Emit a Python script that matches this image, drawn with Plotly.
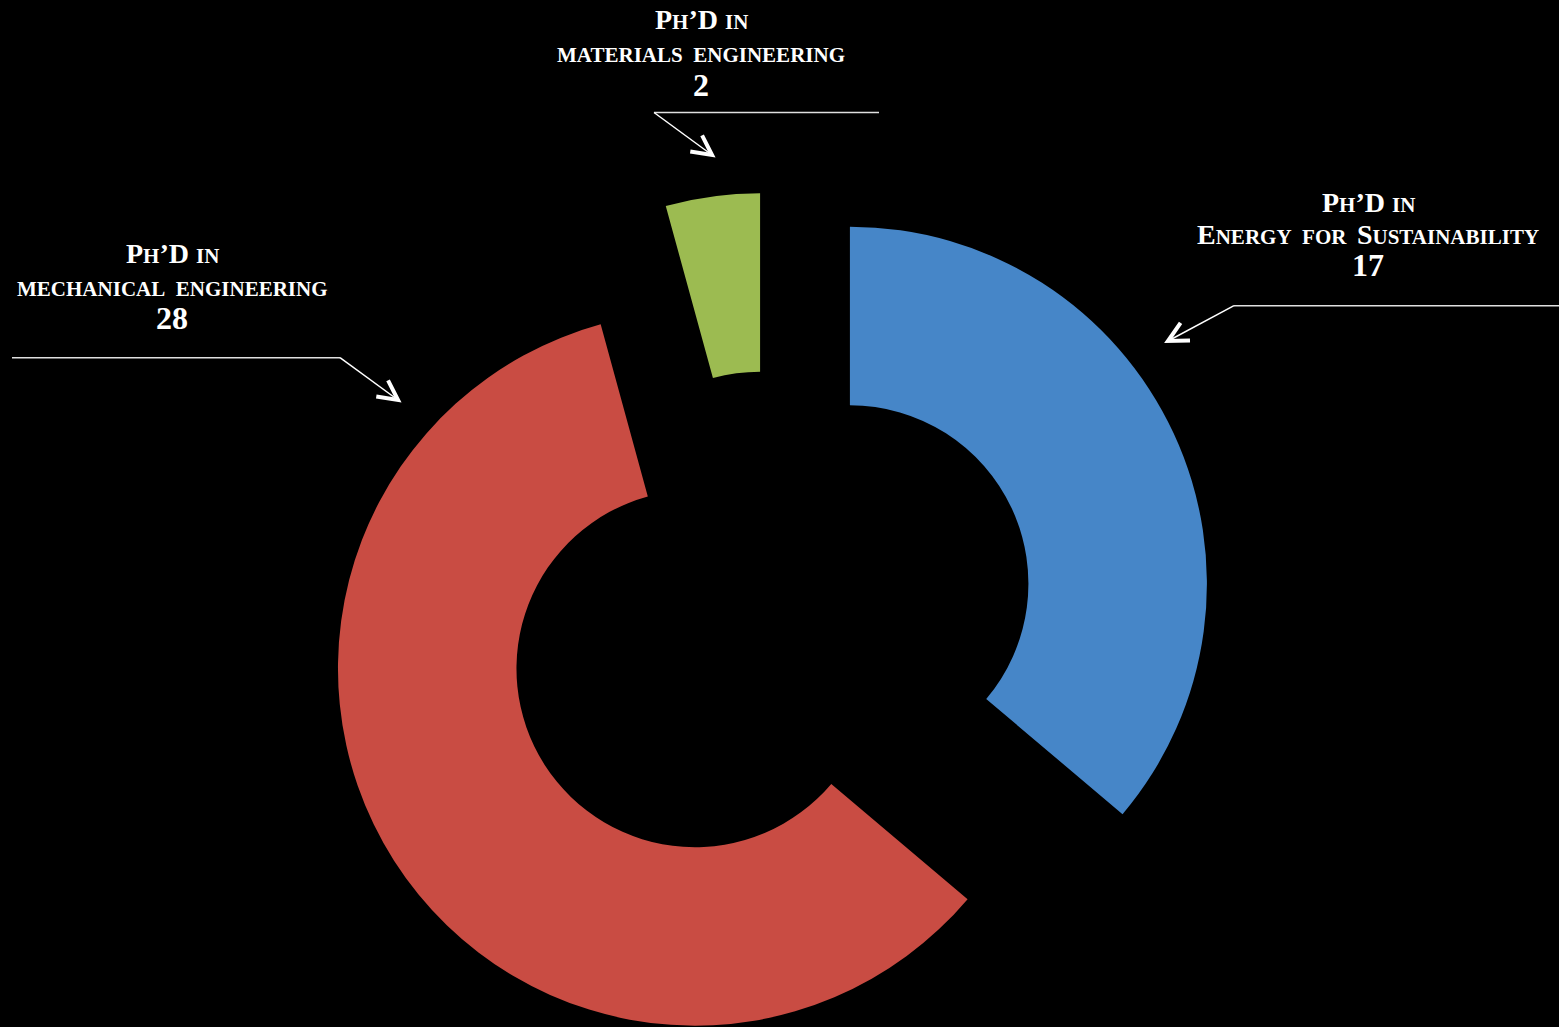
import math
import plotly.graph_objects as go

# ---------------- data ----------------
programs = ["Energy for Sustainability", "Mechanical Engineering", "Materials Engineering"]
students = [17, 28, 2]
label_words = ["Energy for Sustainability", "mechanical engineering", "materials engineering"]

# ---------------- style ----------------
slice_colors = ["#4686C8", "#C94C43", "#9CBB51"]
explode = [0.248, 0.248, 0.20]      # pull, fraction of radius
W, H = 1559, 1027
CX, CY = 769.6, 621.0               # pie centre (px)
R = 357                             # outer radius (px)
HOLE = 0.5
FONT = "Liberation Serif"
BIG, SMALL, NUM = 28, 21, 32


def X(px):
    return px / W


def Y(py):
    return 1 - py / H


fig = go.Figure()
total = sum(students)
cum = 0
for i, v in enumerate(students):
    mid = (cum + v / 2) / total * 2 * math.pi
    cum += v
    d = explode[i] * R
    cx = CX + d * math.sin(mid)
    cy = CY - d * math.cos(mid)
    cols = ["rgba(0,0,0,0)"] * len(students)
    cols[i] = slice_colors[i]
    fig.add_trace(go.Pie(
        labels=programs, values=students, hole=HOLE, sort=False,
        direction="clockwise", rotation=0,
        marker=dict(colors=cols, line=dict(width=0)),
        textinfo="none", hoverinfo="skip", showlegend=False,
        domain=dict(x=[X(cx - R), X(cx + R)], y=[Y(cy + R), Y(cy - R)]),
    ))


def smallcaps(text):
    """Render words with initial capitals large, other letters as small caps."""
    out = []
    for word in text.split(" "):
        parts = ""
        for ch in word:
            if ch.isupper():
                parts += ch
            else:
                parts += f"<span style='font-size:{SMALL}px'>{ch.upper()}</span>"
        out.append(parts)
    return f"<span style='font-size:{SMALL}px'>\u00a0\u00a0</span>".join(out)


head = f"<b>P<span style='font-size:{SMALL}px'>H</span>’D <span style='font-size:{SMALL}px'>IN</span></b>"

# label placement (px): centre x, line centres y
label_pos = [
    (1368, [202, 235, 264.5]),
    (172, [254, 288.5, 317.5]),
    (701, [20, 55, 85]),
]

annotations = []
for i in range(len(students)):
    lx, ys = label_pos[i]
    texts = [head, "<b>" + smallcaps(label_words[i]) + "</b>", f"<b>{students[i]}</b>"]
    sizes = [BIG, BIG, NUM]
    for t, yy, fs in zip(texts, ys, sizes):
        annotations.append(dict(
            x=X(lx), y=Y(yy), xref="paper", yref="paper", text=t, showarrow=False,
            xanchor="center", yanchor="middle",
            font=dict(family=FONT, size=fs, color="white"),
        ))

# leader lines: horizontal start, end, arrow tip (px)
leaders = [
    ((1559, 305.7), (1234, 305.7), (1168, 341)),
    ((12, 357.7), (340, 357.7), (398, 400)),
    ((879, 112.5), (654, 112.5), (712, 155)),
]
shapes = []
for (a, b, tip) in leaders:
    shapes.append(dict(type="line", xref="paper", yref="paper",
                       x0=X(a[0]), y0=Y(a[1]), x1=X(b[0]), y1=Y(b[1]),
                       line=dict(color="#E0E0E0", width=1.5)))
    shapes.append(dict(type="line", xref="paper", yref="paper",
                       x0=X(b[0]), y0=Y(b[1]), x1=X(tip[0]), y1=Y(tip[1]),
                       line=dict(color="white", width=1.5)))
    ang = math.atan2(b[1] - tip[1], b[0] - tip[0])
    L = 22
    pts = []
    for s in (-1, 1):
        aa = ang + s * math.radians(27)
        pts.append((tip[0] + L * math.cos(aa), tip[1] + L * math.sin(aa)))
    path = (f"M {X(pts[0][0])},{Y(pts[0][1])} L {X(tip[0])},{Y(tip[1])} "
            f"L {X(pts[1][0])},{Y(pts[1][1])}")
    shapes.append(dict(type="path", xref="paper", yref="paper", path=path,
                       line=dict(color="white", width=4)))

fig.update_layout(
    width=W, height=H,
    margin=dict(l=0, r=0, t=0, b=0),
    paper_bgcolor="black", plot_bgcolor="black",
    annotations=annotations, shapes=shapes,
    showlegend=False,
)

fig.write_html("out.html")
